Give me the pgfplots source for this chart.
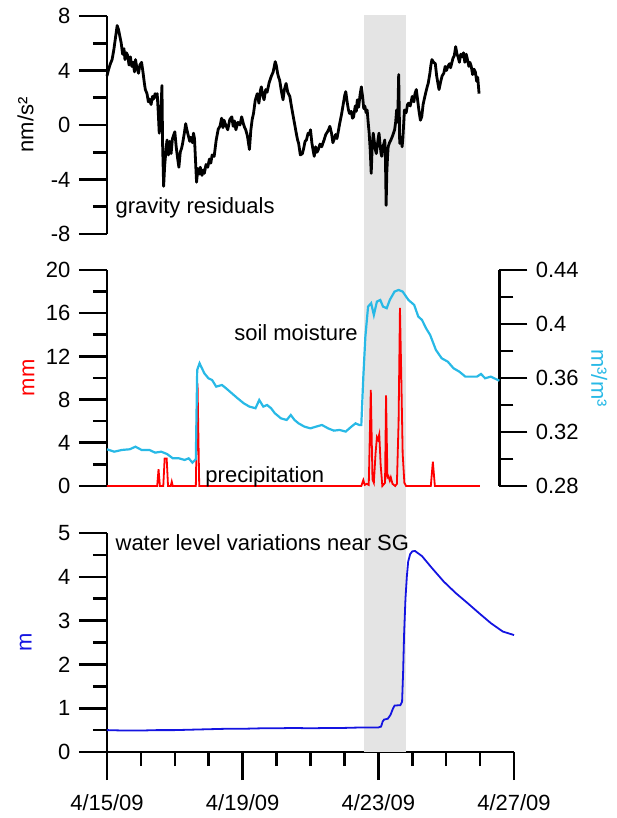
\documentclass[border=0pt]{standalone}
\usepackage{fontspec}
\setmainfont{Liberation Sans}
\usepackage{pgfplots}
\pgfplotsset{compat=1.18}

\definecolor{soil}{RGB}{40,185,230}
\definecolor{band}{RGB}{228,228,228}
\definecolor{wlblue}{RGB}{20,20,225}

% one day = 33.9pt, all panels share the same x scale
\pgfplotsset{
  panel/.style={
    scale only axis,
    width=407pt, xmin=0, xmax=12,
    axis y line*=left,
    axis line style={line width=2.6pt, black},
    tick style={line width=2.6pt, black},
    tick align=outside,
    major tick length=28pt, minor tick length=14pt,
    /pgf/number format/assume math mode=true,
    tick label style={font=\fontsize{22}{26}\selectfont},
    yticklabel style={xshift=-5pt},
    clip=false,
  },
}

\begin{document}
\begin{tikzpicture}[font=\fontsize{22}{26}\selectfont]
% page frame, with the same margins as the original figure
\useasboundingbox (-107pt,-66pt) rectangle (509pt,752pt);

% ---- water level (bottom) ----
\begin{axis}[panel,
  at={(0pt,0pt)}, anchor=south west, height=219pt,
  ymin=0, ymax=5,
  axis x line*=bottom,
  xtick={0,4,8,12}, xticklabels={4/15/09,4/19/09,4/23/09,4/27/09},
  minor xtick={1,2,3,5,6,7,9,10,11},
  xticklabel style={yshift=-11pt},
  ytick={0,1,2,3,4,5}, minor ytick={0.5,1.5,2.5,3.5,4.5},
  ylabel={m}, ylabel style={wlblue, at={(axis description cs:-0.2,0.5)}, anchor=center},
]
% shaded period, spans all three panels
\addplot[fill=band, draw=none] coordinates {(7.58,0) (8.82,0) (8.82,16.83) (7.58,16.83)} -- cycle;
\addplot[wlblue, line width=1.8pt] coordinates {
(0,0.50) (0.5,0.49) (1,0.49) (1.5,0.50) (2,0.50) (2.5,0.51) (3,0.52) (3.5,0.53)
(4,0.53) (4.5,0.54) (5,0.54) (5.5,0.55) (6,0.54) (6.5,0.55) (7,0.55) (7.5,0.56)
(8.0,0.56) (8.08,0.58) (8.13,0.70) (8.17,0.74) (8.28,0.76) (8.36,0.85) (8.43,0.99)
(8.48,1.06) (8.65,1.07) (8.70,1.15) (8.73,1.8) (8.76,2.7) (8.80,3.5) (8.84,4.0)
(8.88,4.35) (8.94,4.52) (9.0,4.58) (9.08,4.59) (9.15,4.55) (9.29,4.47) (9.58,4.2)
(9.93,3.89) (10.28,3.63) (10.63,3.40) (10.97,3.17) (11.32,2.94) (11.67,2.75) (12.0,2.67)
};
\node[anchor=west] at (axis cs:0.15,4.77) {water level variations near SG};
\end{axis}

% ---- precipitation (middle, left scale) ----
\begin{axis}[panel,
  at={(0pt,266pt)}, anchor=south west, width=392.3pt, xmax=11.57, height=216pt,
  axis x line=none,
  ymin=0, ymax=20,
  ytick={0,4,8,12,16,20}, minor ytick={2,6,10,14,18},
  ylabel={mm}, ylabel style={red, at={(axis description cs:-0.2,0.5)}, anchor=center},
]
\addplot[red, line width=1.8pt] coordinates {
(0,0) (1.48,0) (1.52,1.55) (1.56,0) (1.66,0) (1.70,2.55) (1.76,2.55) (1.80,0)
(1.88,0) (1.91,0.4) (1.94,0) (2.62,0) (2.67,9.5) (2.72,0)
(7.50,0) (7.56,0.55) (7.60,0.1) (7.66,0.2) (7.72,0.1) (7.78,8.9) (7.83,0.6) (7.87,0.3)
(7.92,3.0) (7.96,4.5) (7.99,4.3) (8.03,4.8) (8.07,2.0) (8.12,0) (8.20,0.3) (8.23,8.4)
(8.27,0.8) (8.30,0.9) (8.34,0.5) (8.37,0.8) (8.42,0.2) (8.50,0) (8.55,0.2) (8.60,6.0)
(8.64,16.5) (8.68,10) (8.72,3.0) (8.77,0.3) (8.82,0) (9.55,0) (9.61,2.25) (9.67,0) (11.0,0)
};
\node[anchor=west] at (axis cs:2.8,0.85) {precipitation};
\node[anchor=east] at (axis cs:7.5,14.2) {soil moisture};
\end{axis}

% ---- soil moisture (middle, right scale) ----
\begin{axis}[panel,
  at={(0pt,266pt)}, anchor=south west, width=392.3pt, xmax=11.57, height=216pt,
  axis x line=none, axis y line*=right,
  ymin=0.28, ymax=0.44,
  ytick={0.28,0.32,0.36,0.40,0.44}, yticklabels={0.28,0.32,0.36,0.4,0.44},
  minor ytick={0.30,0.34,0.38,0.42},
  yticklabel style={xshift=10pt},
  ylabel={m³/m³}, ylabel style={soil, at={(axis description cs:1.255,0.5)}, anchor=center, rotate=180},
]
\addplot[soil, line width=2.2pt] coordinates {
(0,0.3072) (0.21,0.3054) (0.44,0.3067) (0.67,0.3072) (0.84,0.3091) (1.02,0.3067)
(1.25,0.3067) (1.42,0.3047) (1.60,0.3054) (1.77,0.3037) (1.94,0.3005) (2.12,0.3005)
(2.29,0.2993) (2.41,0.3005) (2.52,0.2973) (2.62,0.2998) (2.66,0.366) (2.73,0.3709)
(2.87,0.3635) (2.99,0.3598) (3.10,0.3585) (3.22,0.3536) (3.39,0.3548) (3.51,0.3524)
(3.68,0.3487) (3.85,0.3450) (4.03,0.3413) (4.20,0.3388) (4.38,0.3376) (4.49,0.3437)
(4.61,0.3388) (4.72,0.3400) (4.84,0.3376) (4.95,0.3339) (5.13,0.3301) (5.30,0.3289)
(5.42,0.3326) (5.53,0.3289) (5.65,0.3264) (5.82,0.3240) (6.00,0.3227) (6.17,0.3240)
(6.34,0.3252) (6.52,0.3227) (6.69,0.3210) (6.86,0.3215) (7.04,0.3203) (7.21,0.3240)
(7.33,0.3264) (7.44,0.3252) (7.50,0.3252) (7.56,0.361) (7.62,0.3907) (7.70,0.4129)
(7.79,0.4154) (7.87,0.4067) (7.96,0.4166) (8.06,0.4178) (8.14,0.4129) (8.25,0.4117)
(8.34,0.4178) (8.48,0.4240) (8.60,0.4252) (8.72,0.4240) (8.89,0.4178) (9.06,0.4141)
(9.18,0.4055) (9.29,0.4030) (9.41,0.3968) (9.53,0.3919) (9.70,0.3808) (9.87,0.3746)
(10.05,0.3721) (10.22,0.3672) (10.39,0.3647) (10.57,0.3610) (10.74,0.3610) (10.91,0.3610)
(11.03,0.3630) (11.15,0.3598) (11.32,0.3610) (11.57,0.3580)
};
\end{axis}

% ---- gravity residuals (top) ----
\begin{axis}[panel,
  at={(0pt,518pt)}, anchor=south west, height=218pt,
  axis x line=none,
  ymin=-8, ymax=8,
  ytick={-8,-4,0,4,8}, yticklabels={-8,-4,0,4,8}, minor ytick={-6,-2,2,6},
  ylabel={nm/s²}, ylabel style={black, at={(axis description cs:-0.2,0.5)}, anchor=center},
]
\addplot[black, line width=2.8pt, line join=round] coordinates {
(0.00,3.6) (0.05,4.1) (0.10,4.5) (0.15,4.8) (0.20,5.5) (0.25,6.4) (0.30,7.3) (0.34,7.0)
(0.38,6.5) (0.42,6.0) (0.46,5.2) (0.50,5.6) (0.53,4.8) (0.57,5.3) (0.61,5.1) (0.65,4.4)
(0.69,5.0) (0.73,4.3) (0.77,4.6) (0.81,3.9) (0.84,4.8) (0.88,4.2) (0.93,3.8) (0.97,4.4)
(1.02,4.6) (1.06,3.9) (1.10,3.1) (1.13,2.6) (1.18,2.3) (1.22,1.7) (1.25,1.9) (1.30,1.5)
(1.34,2.1) (1.37,1.9) (1.42,2.3) (1.46,2.0) (1.48,2.3) (1.51,1.0) (1.54,-0.6) (1.58,0.5)
(1.62,2.9) (1.64,-1.5) (1.67,-4.5) (1.70,-3.0) (1.74,-1.8) (1.77,-1.1) (1.81,-2.2) (1.85,-1.2)
(1.89,-2.1) (1.93,-1.0) (1.97,-0.7) (2.00,-0.5) (2.04,-1.6) (2.08,-2.4) (2.12,-3.1) (2.16,-2.0)
(2.20,-1.7) (2.23,-1.35) (2.28,-0.6) (2.32,0.1) (2.35,-0.3) (2.40,-0.8) (2.44,-1.2) (2.47,-0.9)
(2.52,-1.3) (2.55,-0.6) (2.58,-1.0) (2.61,-2.6) (2.64,-4.2) (2.68,-3.2) (2.72,-3.6) (2.75,-3.1)
(2.80,-3.7) (2.84,-3.3) (2.87,-3.55) (2.92,-2.9) (2.97,-3.1) (3.02,-2.5) (3.06,-2.8) (3.10,-2.2)
(3.16,-2.3) (3.22,-1.1) (3.28,-0.3) (3.33,-0.1) (3.38,0.5) (3.42,-0.2) (3.45,0.35) (3.50,0.0)
(3.56,-0.35) (3.62,0.4) (3.68,0.6) (3.72,-0.1) (3.76,0.3) (3.80,-0.35) (3.86,0.2) (3.92,0.0)
(3.97,0.6) (4.02,0.1) (4.06,-0.2) (4.09,-0.35) (4.14,-0.8) (4.20,-1.8) (4.24,-0.4) (4.28,0.4)
(4.32,0.85) (4.37,1.8) (4.43,2.3) (4.48,1.6) (4.52,2.5) (4.55,2.8) (4.60,2.1) (4.63,1.85)
(4.68,2.6) (4.72,2.4) (4.78,3.1) (4.84,3.55) (4.90,3.9) (4.96,4.65) (4.99,4.4) (5.03,3.8)
(5.06,3.5) (5.09,3.3) (5.14,2.5) (5.19,1.85) (5.23,2.6) (5.28,3.05) (5.33,2.4) (5.39,2.1)
(5.45,1.2) (5.50,0.5) (5.53,0.1) (5.58,-0.6) (5.62,-1.1) (5.65,-1.35) (5.70,-2.2) (5.76,-2.1)
(5.80,-1.7) (5.84,-1.2) (5.88,-1.1) (5.93,-0.6) (5.97,-0.7) (6.00,-0.35) (6.04,-1.3) (6.08,-1.9)
(6.11,-2.3) (6.15,-1.6) (6.19,-2.0) (6.23,-1.8) (6.28,-1.4) (6.33,-1.6) (6.40,-1.1) (6.45,-0.7)
(6.50,-0.5) (6.54,-0.3) (6.57,-0.1) (6.62,-0.6) (6.66,-1.3) (6.69,-1.1) (6.74,-0.7) (6.78,-1.0)
(6.81,-0.6) (6.86,0.1) (6.92,0.85) (6.97,1.6) (7.01,2.2) (7.04,2.45) (7.08,1.7) (7.12,1.1)
(7.15,0.85) (7.20,1.0) (7.24,0.5) (7.27,0.6) (7.32,1.4) (7.35,1.0) (7.38,1.85) (7.42,1.3)
(7.46,2.2) (7.50,2.8) (7.54,2.0) (7.57,1.2) (7.60,1.4) (7.64,0.9) (7.67,1.1) (7.70,0.2)
(7.73,-0.6) (7.76,-1.8) (7.79,-3.55) (7.82,-1.5) (7.85,-0.6) (7.88,-1.2) (7.91,-1.8) (7.94,-2.1)
(7.97,-1.5) (8.00,-0.9) (8.02,-0.6) (8.05,-1.4) (8.08,-2.1) (8.10,-2.3) (8.13,-1.6) (8.16,-1.4)
(8.19,-1.1) (8.21,-2.5) (8.23,-5.9) (8.25,-3.5) (8.27,-2.4) (8.29,-1.6) (8.33,-1.3) (8.37,-1.1)
(8.42,-0.8) (8.48,-0.35) (8.51,0.2) (8.54,1.1) (8.57,0.2) (8.60,3.7) (8.62,0.5) (8.63,-1.35)
(8.67,-0.9) (8.70,-1.6) (8.72,-1.1) (8.75,0.2) (8.77,1.1) (8.82,0.9) (8.86,1.5) (8.89,1.6)
(8.94,1.4) (9.00,2.1) (9.05,1.7) (9.08,2.3) (9.12,2.6) (9.16,1.8) (9.20,1.0) (9.24,0.35)
(9.28,0.6) (9.32,1.5) (9.35,1.85) (9.40,2.4) (9.44,2.8) (9.47,3.05) (9.52,3.8) (9.55,4.4)
(9.58,4.8) (9.63,4.6) (9.68,4.5) (9.72,3.6) (9.76,3.0) (9.79,2.6) (9.84,3.2) (9.88,3.6)
(9.93,3.8) (9.97,4.3) (10.01,4.0) (10.05,4.3) (10.10,4.5) (10.13,4.2) (10.16,4.5) (10.20,4.9)
(10.24,5.1) (10.28,5.75) (10.32,5.2) (10.35,5.0) (10.39,4.6) (10.43,5.2) (10.47,5.0) (10.51,5.3)
(10.55,4.6) (10.59,5.2) (10.62,4.9) (10.67,4.3) (10.70,4.6) (10.74,4.3) (10.78,3.7) (10.82,4.1)
(10.86,3.9) (10.90,3.2) (10.93,3.5) (10.97,2.3)
};
\node[anchor=west] at (axis cs:0.15,-6.1) {gravity residuals};
\end{axis}

\end{tikzpicture}
\end{document}
